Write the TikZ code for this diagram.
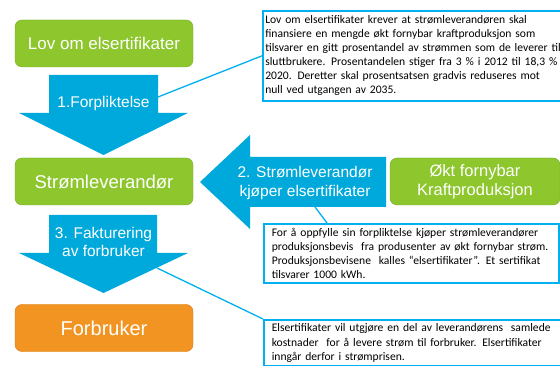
\documentclass[tikz,border=0pt]{standalone}
\usepackage{fontspec}
\setmainfont{Liberation Sans}
\newfontfamily\carlito{Carlito}
\usetikzlibrary{positioning,calc}
\definecolor{elgreen}{RGB}{141,198,45}
\definecolor{elgreenline}{RGB}{118,168,38}
\definecolor{elorange}{RGB}{241,148,33}
\definecolor{elorangeline}{RGB}{214,124,24}
\definecolor{elblue}{RGB}{0,169,219}
\definecolor{elframe}{RGB}{0,176,240}
\tikzset{
  greenbox/.style={draw=elgreenline,fill=elgreen,rounded corners=7pt,text=white,
    minimum width=178pt,minimum height=47pt,align=center,inner sep=0pt},
  orangebox/.style={greenbox,draw=elorangeline,fill=elorange},
  blockarrow/.style={fill=elblue},
  arrowlabel/.style={text=white,align=center,inner sep=0pt,
    font=\fontsize{15.5}{18.5}\selectfont},
  infobox/.style={draw=elframe,line width=1.6pt,fill=white,anchor=north west,
    align=left,inner xsep=8pt,inner ysep=4pt,text width=400pt,
    font=\carlito\fontsize{11.6}{14.2}\selectfont},
  callout/.style={draw=elframe,line width=1.3pt}
}
\begin{document}
\begin{tikzpicture}[x=1pt,y=-1pt]
  \useasboundingbox (0,0) rectangle (560,366);
  \clip (0,0) rectangle (560,366);
  \fill[white] (0,0) rectangle (560,366);
  % venstre kolonne
  \node[greenbox,font=\fontsize{17}{20}\selectfont] (lov) at (104,43.5) {Lov om elsertifikater};
  \node[greenbox,font=\fontsize{18.5}{22}\selectfont] (leverandor) at (104,181.5) {Strømleverandør};
  \node[orangebox,font=\fontsize{20}{24}\selectfont] (forbruker) at (104,328) {Forbruker};
  \node[greenbox,minimum width=170pt,font=\fontsize{16.5}{19}\selectfont] (fornybar) at (475,181.5) {Økt fornybar\\Kraftproduksjon};
  % blokkpiler
  \fill[blockarrow] (49,75) -- (158,75) -- (158,113) -- (188,113) -- (103.5,155)
    -- (19,113) -- (49,113) -- cycle;
  \fill[blockarrow] (49,215) -- (157,215) -- (157,253) -- (188,253) -- (103.5,293)
    -- (19,253) -- (49,253) -- cycle;
  \fill[blockarrow] (386,157) -- (386,207) -- (250,207) -- (250,229) -- (200,182)
    -- (250,135) -- (250,157) -- cycle;
  \node[arrowlabel] (forplikt) at (103.5,103) {1.Forpliktelse};
  \node[arrowlabel] (kjop) at (305,183) {2. Strømleverandør\\kjøper elsertifikater};
  \node[arrowlabel] (faktura) at (103.5,242) {3. Fakturering\\av forbruker};
  \coordinate (p1) at (158,97);
  \coordinate (p2) at (315,207);
  \coordinate (p3) at (157,268);
  % tekstbokser
  \node[infobox,inner xsep=2.5pt,inner ysep=5pt,
    font=\carlito\fontsize{11.6}{14}\selectfont] (lovtekst) at (262,10)
    {Lov om elsertifikater krever at strømleverandøren skal\\
    finansiere en mengde økt fornybar kraftproduksjon som\\
    tilsvarer en gitt prosentandel av strømmen som de leverer til\\
    sluttbrukere. Prosentandelen stiger fra 3 \% i 2012 til 18,3 \% i\\
    2020. Deretter skal prosentsatsen gradvis reduseres mot\\
    null ved utgangen av 2035.};
  \node[infobox,text width=279pt] (sertekst) at (263,223)
    {For å oppfylle sin forpliktelse kjøper strømleverandører\\
    produksjonsbevis\ \ fra produsenter av økt fornybar strøm.\\
    Produksjonsbevisene\ \ kalles “elsertifikater”. Et sertifikat\\
    tilsvarer 1000 kWh.};
  \node[infobox] (kosttekst) at (263,319)
    {Elsertifikater vil utgjøre en del av leverandørens\ \ samlede\\
    kostnader\ \ for å levere strøm til forbruker. Elsertifikater\\
    inngår derfor i strømprisen.\\[20pt]};
  % forbindelser
  \draw[callout] (p1) -- (lovtekst.west);
  \draw[callout] (p2) -- ($(sertekst.north west)+(64,0)$);
  \draw[callout] (p3) -- (kosttekst.north west);
\end{tikzpicture}
\end{document}
